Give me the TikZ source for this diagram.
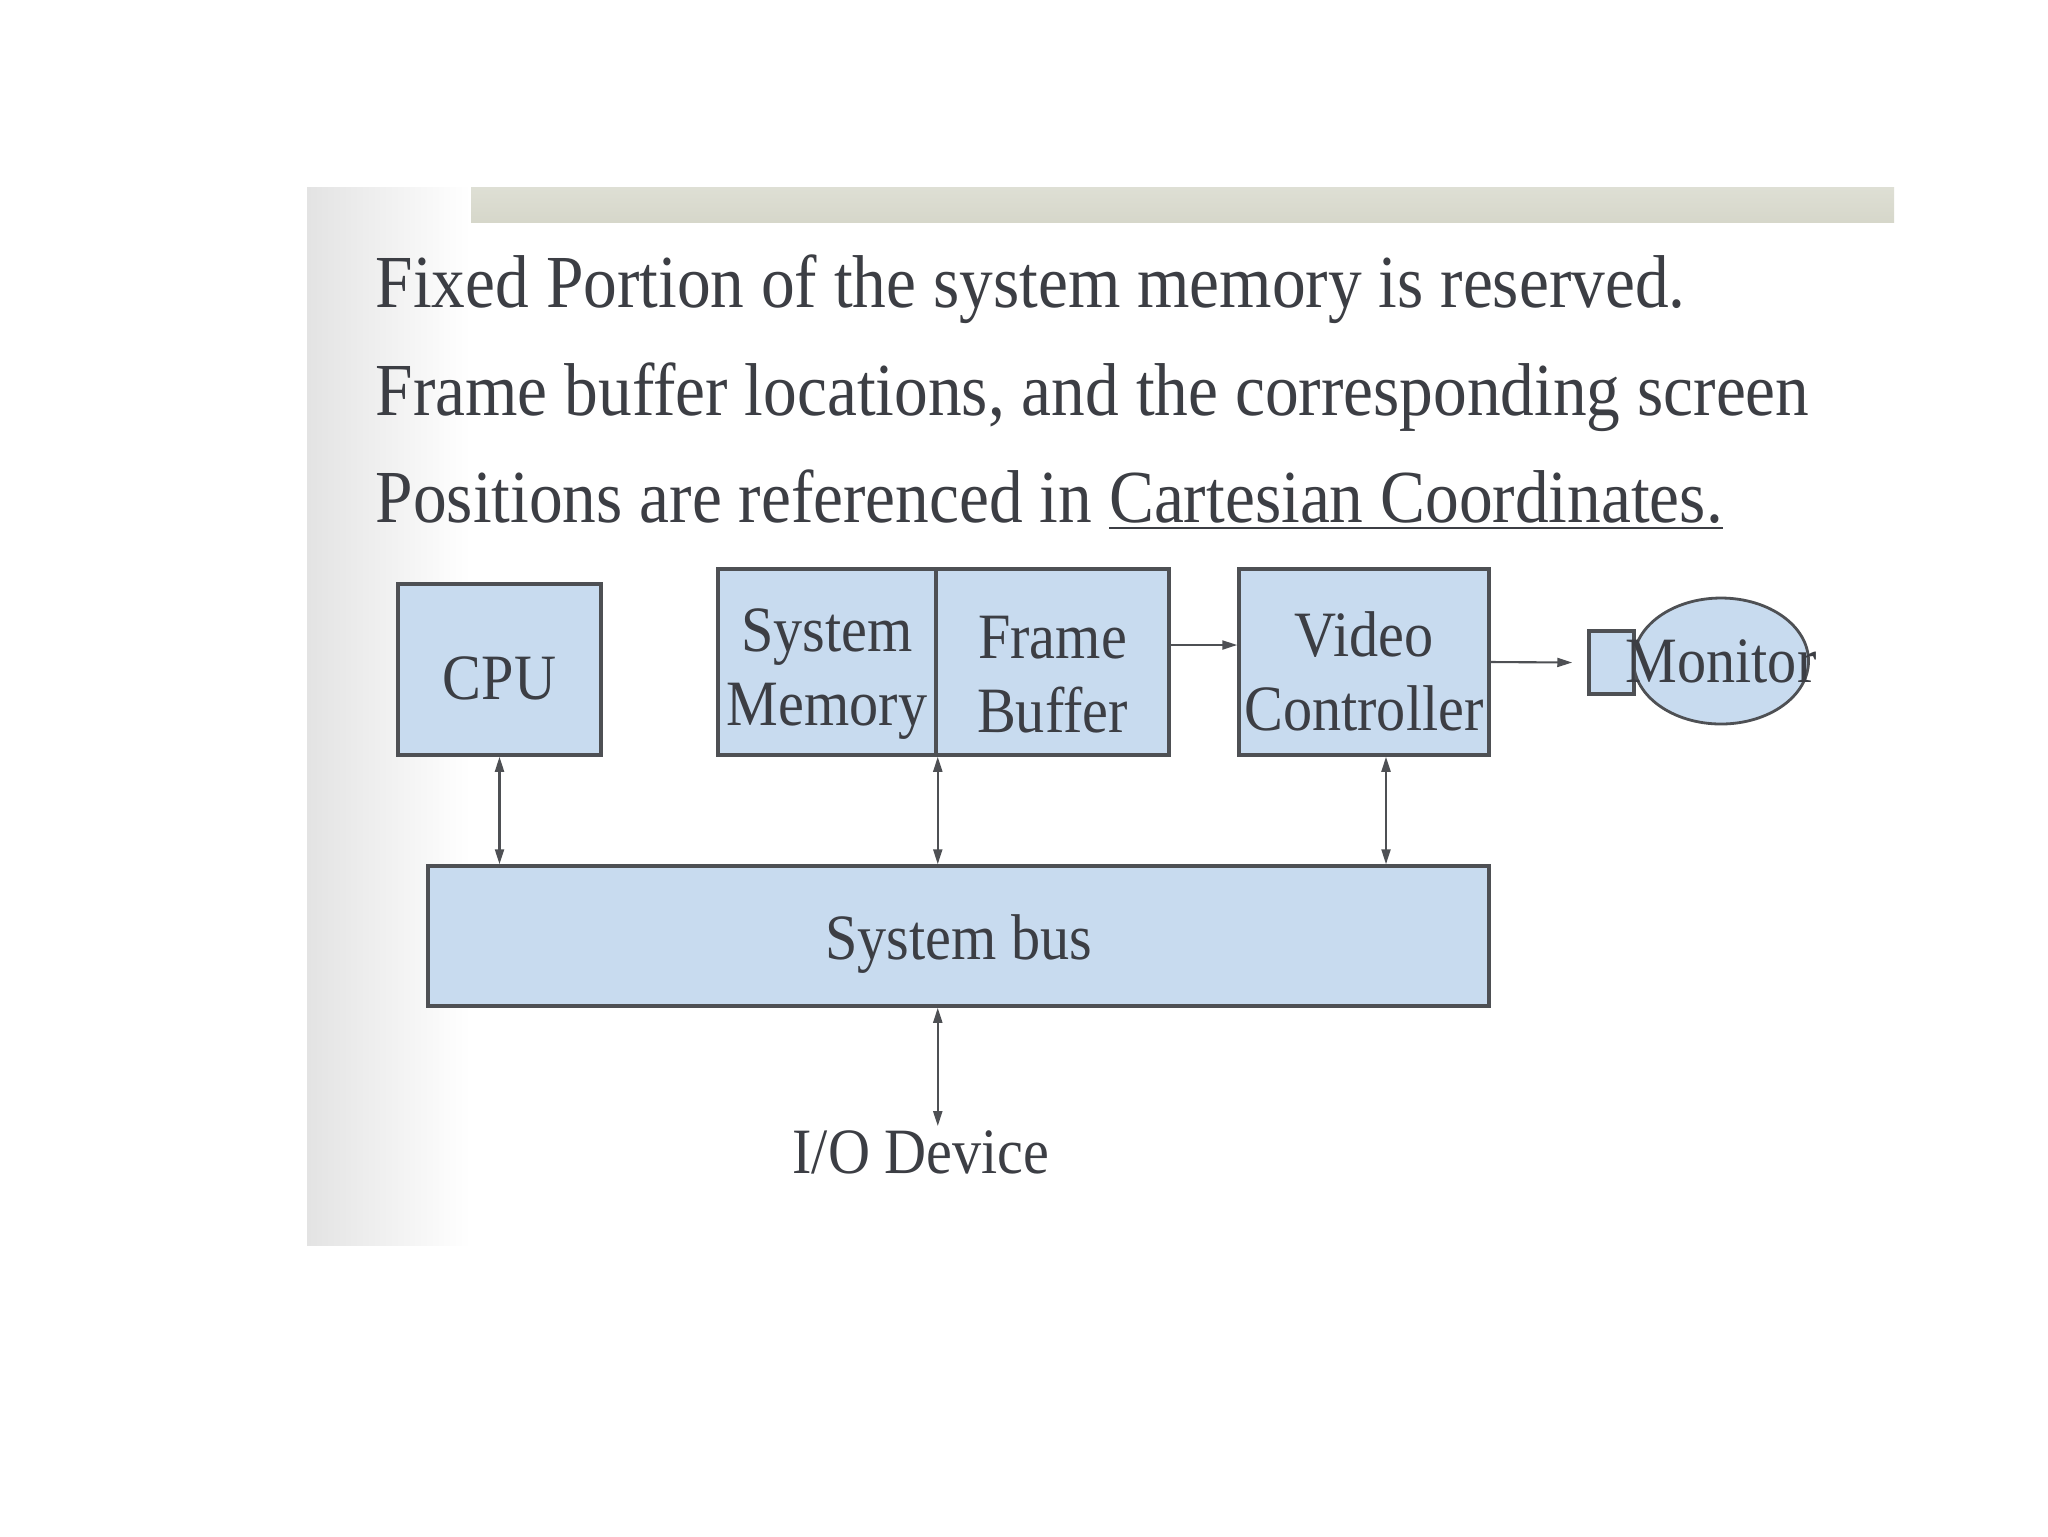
\documentclass[tikz,border=0pt]{standalone}
\usepackage{fontspec}
\setmainfont[FakeStretch=0.9]{Liberation Serif}
\usetikzlibrary{arrows.meta,shapes.geometric}
\definecolor{boxblue}{RGB}{200,219,239}
\definecolor{edgegray}{RGB}{78,80,84}
\definecolor{inkgray}{RGB}{60,62,68}
\definecolor{bargray}{RGB}{214,215,202}
\newcommand{\boxlift}[1][17.5pt]{\rule{0pt}{#1}}

\begin{document}
\begin{tikzpicture}[x=0.1mm, y=-0.1mm,
  headline/.style={anchor=base west, inner sep=0pt, text=inkgray, font=\fontsize{21.3}{25}\selectfont},
  box/.style={draw=edgegray, line width=1pt, fill=boxblue, text=inkgray, inner sep=0pt, align=center,
    font=\fontsize{18.4}{21}\selectfont},
  plain/.style={text=inkgray, inner sep=1pt, font=\fontsize{18.4}{20.7}\selectfont},
  arr/.style={draw=edgegray, line width=0.6pt, -{Triangle[length=1.5mm,width=0.9mm]}},
  biarr/.style={arr, {Triangle[length=1.5mm,width=0.9mm]}-{Triangle[length=1.5mm,width=0.9mm]}}]

  \useasboundingbox (0,0) rectangle (2048,1536);
  \fill[white] (0,0) rectangle (2048,1536);

  % slide decoration
  \shade[left color=black!11, right color=white] (307,187) rectangle (470,1245);
  \shade[top color=bargray!80!white, bottom color=bargray] (471,187) rectangle (1894,222);

  % text lines
  \node[headline] (line1) at (375,307) {Fixed Portion of the system memory is reserved.};
  \node[headline] (line2) at (375,415) {Frame buffer locations, and the corresponding screen};
  \node[headline] (line3) at (375,522) {Positions are referenced in \underline{Cartesian Coordinates.}};

  % blocks
  \node[box, minimum width=20.3mm, minimum height=17.1mm] (cpu) at (499.5,669.5) {\boxlift CPU};
  \node[box, minimum width=21.8mm, minimum height=18.6mm] (mem) at (827,662) {\boxlift[19pt]System\\Memory};
  \node[box, minimum width=23.3mm, minimum height=18.6mm] (fb)  at (1052.5,662) {\boxlift[19pt]Frame\\Buffer};
  \node[box, minimum width=25mm,   minimum height=18.6mm] (vc)  at (1364,662) {\boxlift[18pt]Video\\Controller};
  \node[box, minimum width=106.1mm, minimum height=14mm]  (bus) at (958.5,936) {\boxlift System bus};

  % monitor
  \node[draw=edgegray, line width=0.8pt, fill=boxblue, ellipse, minimum width=17.5mm, minimum height=12.6mm] (mon) at (1721,661) {};
  \node[box, minimum width=4.5mm, minimum height=6.3mm] (scr) at (1611.5,662.5) {};
  \node[plain] at (mon) {Monitor};

  \node[plain] (io) at (921,1152) {I/O Device};

  % connections
  \draw[arr] ([yshift=1.7mm]fb.east) -- ([yshift=1.7mm]vc.west);
  \draw[arr] (vc.east) -- ([xshift=-1.5mm]scr.west);
  \draw[biarr] (cpu.south) -- (cpu.south |- bus.north);
  \draw[biarr] (mem.south east) -- (mem.south east |- bus.north);
  \draw[biarr] ([xshift=2.2mm]vc.south) -- ([xshift=2.2mm]vc.south |- bus.north);
  \draw[biarr] (bus.south -| mem.south east) -- (io.north -| mem.south east);
\end{tikzpicture}
\end{document}
